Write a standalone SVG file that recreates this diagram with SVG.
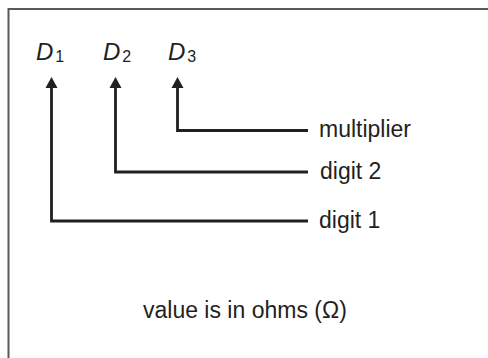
<svg xmlns="http://www.w3.org/2000/svg" width="488" height="358" viewBox="0 0 488 358">
<defs>
<style>
.t{font-family:"Liberation Sans",Arial,sans-serif;fill:#231f20}
.lbl{font-size:23px}
.d{font-size:24px;font-style:italic}
.sub{font-size:16px;font-style:normal}
.c{fill:none;stroke:#231f20;stroke-width:2.8}
.b{stroke:#58595b;stroke-width:2;fill:none}
</style>
<marker id="ah" markerWidth="12" markerHeight="11" refX="6" refY="1" orient="auto-start-reverse" markerUnits="userSpaceOnUse" viewBox="0 0 12 11">
<path d="M0,11 L6,0 L12,11 Z" fill="#231f20"/>
</marker>
</defs>
<rect width="488" height="358" fill="#fff"/>
<path class="b" d="M8.5,358 V9 H488"/>
<g id="D1"><text class="t d" x="36" y="60">D<tspan class="sub" dx="2" dy="2">1</tspan></text></g>
<g id="D2"><text class="t d" x="103" y="60">D<tspan class="sub" dx="2" dy="2">2</tspan></text></g>
<g id="D3"><text class="t d" x="168" y="60">D<tspan class="sub" dx="2" dy="2">3</tspan></text></g>
<g id="multiplier"><text class="t lbl" x="319" y="137">multiplier</text></g>
<g id="digit2"><text class="t lbl" x="320" y="179">digit 2</text></g>
<g id="digit1"><text class="t lbl" x="319" y="228">digit 1</text></g>
<g id="note"><text class="t lbl" x="143" y="318">value is in ohms (Ω)</text></g>
<g id="connectors">
<path class="c" d="M308,130.5 H177.5 V88" />
<path class="c" d="M308,172 H115.5 V88" />
<path class="c" d="M308,221 H51.5 V88" />
<path d="M45.5,88 L51.5,77 L57.5,88 Z" fill="#231f20"/>
<path d="M109.5,88 L115.5,77 L121.5,88 Z" fill="#231f20"/>
<path d="M171.5,88 L177.5,77 L183.5,88 Z" fill="#231f20"/>
</g>
</svg>
